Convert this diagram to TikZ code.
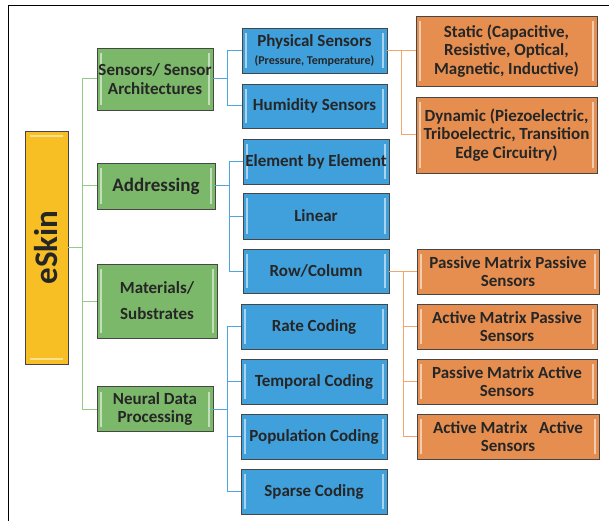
\documentclass[tikz,border=0pt]{standalone}
\usepackage{fontspec}
\setmainfont{Carlito}
\definecolor{skinyellow}{HTML}{F7BF23}
\definecolor{topgreen}{HTML}{7BB86A}
\definecolor{midblue}{HTML}{40A0DC}
\definecolor{leaforange}{HTML}{E68E50}
\definecolor{greenline}{HTML}{93CC84}
\definecolor{blueline}{HTML}{4FA6DE}
\definecolor{orangeline}{HTML}{F2A56C}

\begin{document}
\begin{tikzpicture}[x=1pt, y=-1pt,
    box/.style={draw=gray!55!black, line width=0.8pt, inner sep=0pt, align=center,
        font=\fontsize{17}{18.5}\selectfont\bfseries, text=black!85,
        path picture={
            \draw[white, opacity=.55, line width=1.2pt]
                ([xshift=4pt, yshift=-5pt]path picture bounding box.north west) -- ([xshift=4pt, yshift=5pt]path picture bounding box.south west)
                ([xshift=-4pt, yshift=-5pt]path picture bounding box.north east) -- ([xshift=-4pt, yshift=5pt]path picture bounding box.south east);}},
    gbox/.style={box, fill=topgreen},
    bbox/.style={box, fill=midblue, minimum width=146pt, minimum height=45pt},
    obox/.style={box, fill=leaforange},
    gline/.style={draw=greenline, line width=1pt},
    bline/.style={draw=blueline, line width=1pt},
    oline/.style={draw=orangeline, line width=1pt}]

    \useasboundingbox (0,0) rectangle (609,521);
    \draw[line width=1pt] (8,521) -- (8,6) -- (609,6);

    % root
    \node[draw=gray!55!black, line width=0.8pt, fill=skinyellow, minimum width=43pt, minimum height=233pt, inner sep=0pt,
        path picture={
            \draw[white, opacity=.5, line width=1.2pt]
                ([xshift=5pt, yshift=-5pt]path picture bounding box.north west) -- ([xshift=-5pt, yshift=-5pt]path picture bounding box.north east)
                ([xshift=5pt, yshift=5pt]path picture bounding box.south west) -- ([xshift=-5pt, yshift=5pt]path picture bounding box.south east);}]
        at (46.5,247.5)(eskin){};
    \node[rotate=90, font=\fontsize{33}{36}\selectfont\bfseries, text=black!85] at (eskin.center)(eskinlabel){eSkin};

    % first level
    \node[gbox, minimum width=116pt, minimum height=62pt] at (155,79)(sens){Sensors/ Sensor\\Architectures};
    \node[gbox, minimum width=118pt, minimum height=46pt, font=\fontsize{19}{20}\selectfont\bfseries] at (156,186)(addr){Addressing};
    \node[gbox, minimum width=120pt, minimum height=74pt, font=\fontsize{17}{26}\selectfont\bfseries] at (157,301)(mat){Materials/\\Substrates};
    \node[gbox, minimum width=116pt, minimum height=45pt] at (155,409)(neur){Neural Data\\Processing};

    % second level
    \node[bbox, minimum width=145pt] at (314.5,50.5)(phys){Physical Sensors\\[-1pt]{\fontsize{12}{13}\selectfont(Pressure, Temperature)}};
    \node[bbox, minimum width=145pt, minimum height=44pt] at (314.5,106)(humid){Humidity Sensors};
    \node[bbox] at (316,161.5)(elem){Element by Element};
    \node[bbox, minimum height=46pt] at (316,216)(lin){Linear};
    \node[bbox, minimum height=44pt] at (316,271)(rowcol){Row/Column};
    \node[bbox] at (314,326.5)(rate){Rate Coding};
    \node[bbox] at (314,381.5)(tempc){Temporal Coding};
    \node[bbox] at (314,436.5)(pop){Population Coding};
    \node[bbox] at (314,491.5)(sparse){Sparse Coding};

    % third level
    \node[obox, minimum width=181pt, minimum height=70pt] at (506.5,51)(static){Static (Capacitive,\\Resistive, Optical,\\Magnetic, Inductive)};
    \node[obox, minimum width=181pt, minimum height=76pt] at (506.5,135)(dyn){Dynamic (Piezoelectric,\\Triboelectric, Transition\\Edge Circuitry)};
    \node[obox, minimum width=182pt, minimum height=45pt] at (508,271.5)(pmps){Passive Matrix Passive\\Sensors};
    \node[obox, minimum width=180pt, minimum height=45pt] at (507,326.5)(amps){Active Matrix Passive\\Sensors};
    \node[obox, minimum width=180pt, minimum height=45pt] at (507,381.5)(pmas){Passive Matrix Active\\Sensors};
    \node[obox, minimum width=182pt, minimum height=45pt] at (508,436.5)(amas){Active Matrix \ \ Active\\Sensors};

    \draw[gline](eskin.east) -- ++(14,0) |- (sens.west);
    \draw[gline](eskin.east) -- ++(14,0) |- (addr.west);
    \draw[gline](eskin.east) -- ++(14,0) |- (mat.west);
    \draw[gline](eskin.east) -- ++(14,0) |- (neur.west);

    \draw[bline](sens.east) -- ++(14,0) |- (phys.west);
    \draw[bline](sens.east) -- ++(14,0) |- (humid.west);
    \draw[bline](addr.east) -- ++(14,0) |- (elem.west);
    \draw[bline](addr.east) -- ++(14,0) |- (lin.west);
    \draw[bline](addr.east) -- ++(14,0) |- (rowcol.west);
    \draw[bline](neur.east) -- ++(14,0) |- (rate.west);
    \draw[bline](neur.east) -- ++(14,0) |- (tempc.west);
    \draw[bline](neur.east) -- ++(14,0) |- (pop.west);
    \draw[bline](neur.east) -- ++(14,0) |- (sparse.west);

    \draw[oline](phys.east) -- ++(14,0) |- (static.west);
    \draw[oline](phys.east) -- ++(14,0) |- (dyn.west);
    \draw[oline](rowcol.east) -- ++(14,0) |- (pmps.west);
    \draw[oline](rowcol.east) -- ++(14,0) |- (amps.west);
    \draw[oline](rowcol.east) -- ++(14,0) |- (pmas.west);
    \draw[oline](rowcol.east) -- ++(14,0) |- (amas.west);
\end{tikzpicture}
\end{document}
